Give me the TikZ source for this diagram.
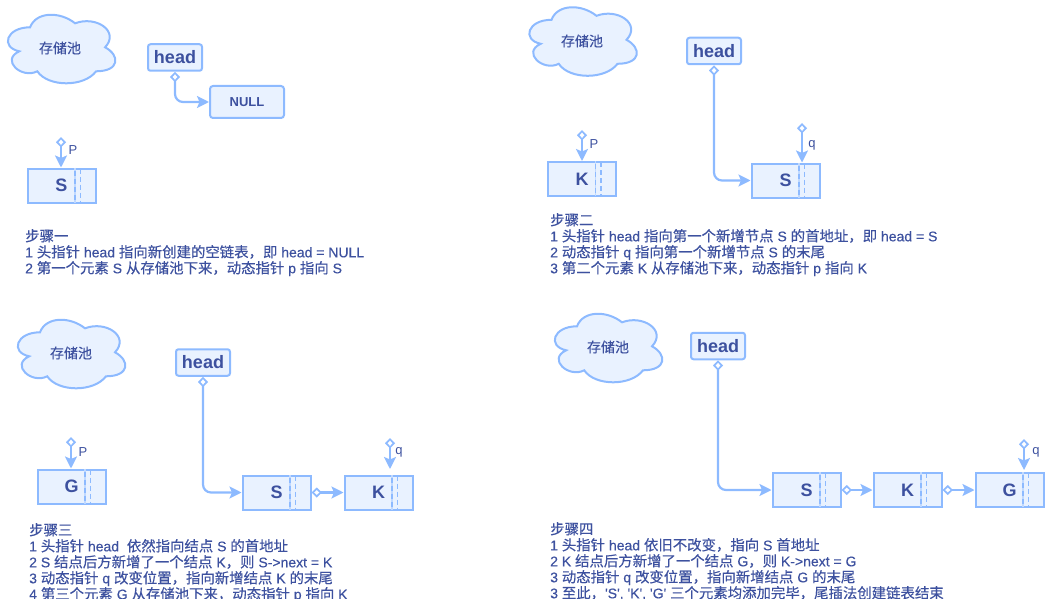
\documentclass[tikz,border=0pt]{standalone}
\usepackage{fontspec}
\setmainfont{Liberation Sans}
\newfontfamily\zhfont[FakeBold=0.4]{Noto Sans CJK SC}
\newfontfamily\lafont[FakeBold=0.4]{Liberation Sans}
\newcommand{\zh}[1]{{\zhfont\fontsize{14.4}{16}\selectfont #1}}
\usetikzlibrary{arrows.meta,calc}
\definecolor{edgeblue}{HTML}{8DBAFF}
\definecolor{fillblue}{HTML}{E9F2FF}
\definecolor{inkblue}{HTML}{3D519F}
\tikzset{
  x=1pt,y=-1pt,
  poolcloud/.style={draw=edgeblue,fill=fillblue,line width=2pt},
  poolname/.style={text=inkblue,font=\zhfont\fontsize{14}{14}\selectfont,inner sep=0pt},
  headbox/.style={draw=edgeblue,fill=fillblue,line width=2pt,rounded corners=2.5pt,minimum width=54pt,minimum height=26.5pt,inner sep=0pt,text=inkblue,font=\bfseries\fontsize{18}{18}\selectfont},
  nullbox/.style={draw=edgeblue,fill=fillblue,line width=2pt,rounded corners=3pt,minimum width=74pt,minimum height=32pt,inner sep=0pt,text=inkblue,font=\bfseries\fontsize{13}{13}\selectfont},
  listbox/.style={draw=edgeblue,fill=fillblue,line width=2pt,minimum width=68pt,minimum height=34pt,inner sep=0pt,text=inkblue,font=\bfseries\fontsize{18}{18}\selectfont},
  divider/.style={draw=edgeblue!55,line width=1.6pt},
  divdash/.style={draw=edgeblue,line width=1.8pt,dash pattern=on 5pt off 3pt},
  link/.style={draw=edgeblue,line width=2.2pt,rounded corners=8pt,{Diamond[fill=white,open,length=10.5pt,width=10pt,line width=1.7pt]}-{Stealth[length=12pt,width=12pt,inset=2.5pt]}},
  ptrlabel/.style={text=inkblue,font=\fontsize{13}{13}\selectfont,inner sep=0pt},
  steptext/.style={anchor=north west,inner sep=0pt,align=left,text=inkblue,font=\lafont\fontsize{14}{16}\selectfont},
}
\newcommand{\poolcloud}[2]{%
  \coordinate (cl) at (#1,#2);
  \draw[poolcloud] ($(cl)+(30,20)$) .. controls ($(cl)+(6,20)$) and ($(cl)+(0,40)$) .. ($(cl)+(19.2,44)$)
      .. controls ($(cl)+(0,52.8)$) and ($(cl)+(21.6,72)$) .. ($(cl)+(37.2,64)$)
      .. controls ($(cl)+(48,80)$) and ($(cl)+(84,80)$) .. ($(cl)+(96,64)$)
      .. controls ($(cl)+(120,64)$) and ($(cl)+(120,48)$) .. ($(cl)+(105,40)$)
      .. controls ($(cl)+(120,24)$) and ($(cl)+(96,8)$) .. ($(cl)+(75,16)$)
      .. controls ($(cl)+(60,4)$) and ($(cl)+(36,4)$) .. ($(cl)+(30,20)$) -- cycle;}
\newcommand{\listnode}[4]{%
  \node[listbox] (#1) at (#2,#3) {#4\hspace{2pt}};
  \draw[divider] ([xshift=48.5pt]#1.north west) -- ([xshift=48.5pt]#1.south west);
  \draw[divdash] ([xshift=48.5pt,yshift=-3pt]#1.north west) -- ([xshift=48.5pt]#1.south west);
  \draw[divdash] ([xshift=54pt,yshift=-1pt]#1.north west) -- ([xshift=54pt]#1.south west);}
\begin{document}
\begin{tikzpicture}
\useasboundingbox (0,0) rectangle (1046,599);
% clouds
\poolcloud{0.1}{7.3}
\poolcloud{521.5}{-0.2}
\poolcloud{10}{312.3}
\poolcloud{547}{306.3}
\node[poolname] (pool1) at (60,48) {存储池};
\node[poolname] (pool2) at (582,41) {存储池};
\node[poolname] (pool3) at (71,353) {存储池};
\node[poolname] (pool4) at (608,347) {存储池};
% step 1
\node[headbox] (head1) at (175,57.5) {head};
\node[nullbox] (null1) at (247,102) {NULL};
\listnode{s1}{61.5}{185.5}{S}
\coordinate (p1) at (61,137);
\draw[link] (head1.south) |- (null1.west);
\draw[link] (p1) -- (p1|-s1.north);
\node[ptrlabel] (pl1) at (73,150) {P};
\node[steptext] (t1) at (25,229) {\zh{步骤一}\\1 \zh{头指针} head \zh{指向新创建的空链表，即} head = NULL\\2 \zh{第一个元素} S \zh{从存储池下来，动态指针} p \zh{指向} S};
% step 2
\node[headbox] (head2) at (714,51) {head};
\listnode{k2}{582}{179}{K}
\listnode{s2}{785.5}{180.5}{S}
\coordinate (p2) at (582,130);
\coordinate (q2) at (802,123);
\draw[link] (head2.south) |- (s2.west);
\draw[link] (p2) -- (p2|-k2.north);
\draw[link] (q2) -- (q2|-s2.north);
\node[ptrlabel] (pl2) at (594,144) {P};
\node[ptrlabel] (ql2) at (812,145) {q};
\node[steptext] (t2) at (550,213) {\zh{步骤二}\\1 \zh{头指针} head \zh{指向第一个新增节点} S \zh{的首地址，即} head = S\\2 \zh{动态指针} q \zh{指向第一个新增节点} S \zh{的末尾}\\3 \zh{第二个元素} K \zh{从存储池下来，动态指针} p \zh{指向} K};
% step 3
\node[headbox] (head3) at (203,362.5) {head};
\listnode{g3}{71.5}{486.5}{G}
\listnode{s3}{276.5}{492.5}{S}
\listnode{k3}{378.5}{492.5}{K}
\coordinate (p3) at (71,437);
\coordinate (q3) at (390,438);
\coordinate (qe3) at (390,469);
\draw[link] (head3.south) |- (s3.west);
\draw[link] (s3.east) -- (k3.west);
\draw[link] (p3) -- (p3|-g3.north);
\draw[link] (q3) -- (qe3);
\node[ptrlabel] (pl3) at (83,452) {P};
\node[ptrlabel] (ql3) at (399,452) {q};
\node[steptext] (t3) at (29,523) {\zh{步骤三}\\1 \zh{头指针} head\ \ \zh{依然指向结点} S \zh{的首地址}\\2 S \zh{结点后方新增了一个结点} K\zh{，则} S->next = K\\3 \zh{动态指针} q \zh{改变位置，指向新增结点} K \zh{的末尾}\\4 \zh{第三个元素} G \zh{从存储池下来，动态指针} p \zh{指向} K};
% step 4
\node[headbox] (head4) at (718,346) {head};
\listnode{s4}{806.5}{490}{S}
\listnode{k4}{907.5}{490}{K}
\listnode{g4}{1009.5}{490}{G}
\coordinate (q4) at (1024,439);
\coordinate (qe4) at (1024,470);
\draw[link] (head4.south) |- (s4.west);
\draw[link] (s4.east) -- (k4.west);
\draw[link] (k4.east) -- (g4.west);
\draw[link] (q4) -- (qe4);
\node[ptrlabel] (ql4) at (1036,452) {q};
\node[steptext] (t4) at (550,522) {\zh{步骤四}\\1 \zh{头指针} head \zh{依旧不改变，指向} S \zh{首地址}\\2 K \zh{结点后方新增了一个结点} G\zh{，则} K->next = G\\3 \zh{动态指针} q \zh{改变位置，指向新增结点} G \zh{的末尾}\\3 \zh{至此，}'S', 'K', 'G' \zh{三个元素均添加完毕，尾插法创建链表结束}};
\end{tikzpicture}
\end{document}
